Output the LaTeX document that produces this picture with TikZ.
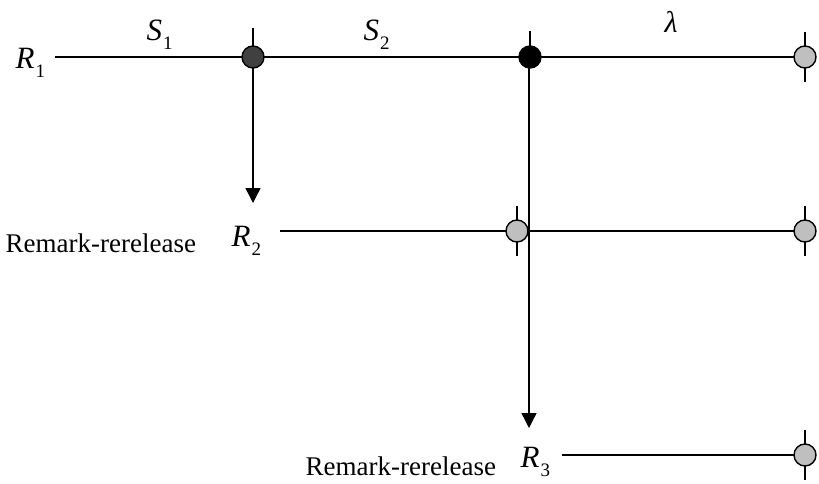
\documentclass[tikz,border=0pt]{standalone}
\usepackage{fontspec}
\setmainfont{Liberation Serif}
\usetikzlibrary{arrows.meta,calc}
% italic letter with an upright, lowered subscript digit
\newcommand\sublab[2]{{\itshape #1}\kern0.03em\raisebox{-0.3em}{\fontsize{19}{19}\selectfont #2}}
\begin{document}
\begin{tikzpicture}[x=1pt,y=-1pt,line width=1.4pt,
  junction/.style={circle,draw=black,line width=1.4pt,minimum size=22pt,inner sep=0pt},
  darkjct/.style={junction,fill=black!75},
  blackjct/.style={junction,fill=black},
  greyjct/.style={junction,fill=black!25},
  mathlab/.style={inner sep=0pt,anchor=base west,font=\fontsize{31}{34}\selectfont},
  notelab/.style={inner sep=0pt,anchor=base west,font=\fontsize{27}{30}\selectfont},
  branch/.style={-{Triangle[length=15pt,width=15pt]}}]
\useasboundingbox (0,0) rectangle (819,483);

% junction points
\coordinate (a) at (253,57);
\coordinate (b) at (530,57);
\coordinate (c) at (805,57);
\coordinate (d) at (517,231);
\coordinate (e) at (805,231);
\coordinate (f) at (805,455);

% labels
\node[mathlab] (r1) at (15,68) {\sublab{R}{1}};
\node[mathlab] (s1) at (146,40) {\sublab{S}{1}};
\node[mathlab] (s2) at (363,40) {\sublab{S}{2}};
\node[mathlab,font=\fontsize{30}{34}\selectfont\itshape] (lam) at (664,32) {λ};
\node[notelab] (rm2) at (5,252) {Remark-rerelease};
\node[mathlab] (r2) at (231,246) {\sublab{R}{2}};
\node[notelab] (rm3) at (305,475) {Remark-rerelease};
\node[mathlab] (r3) at (520,467) {\sublab{R}{3}};

% line ends
\coordinate (r1end) at (55,57);
\coordinate (r2end) at (280,231);
\coordinate (r3end) at (562,455);
\coordinate (tipa) at (253,203);
\coordinate (tipb) at (529,428);

% horizontal lines
\draw (r1end) -- (a) -- (b) -- (c);
\draw (r2end) -- (d) -- (e);
\draw (r3end) -- (f);

% branch arrows
\draw[branch] (a) -- (tipa);
\draw[branch] (b -| tipb) -- (tipb);

% ticks through the junctions
\draw ($(a)+(0,-29)$) -- (a);
\draw ($(b)+(0,-26)$) -- (b);
\foreach \p in {c,d,e,f} \draw ($(\p)+(0,-25)$) -- ($(\p)+(0,25)$);

% junction discs
\node[darkjct] (ja) at (a) {};
\node[blackjct] (jb) at (b) {};
\node[greyjct] (jc) at (c) {};
\node[greyjct] (jd) at (d) {};
\node[greyjct] (je) at (e) {};
\node[greyjct] (jf) at (f) {};
\end{tikzpicture}
\end{document}
